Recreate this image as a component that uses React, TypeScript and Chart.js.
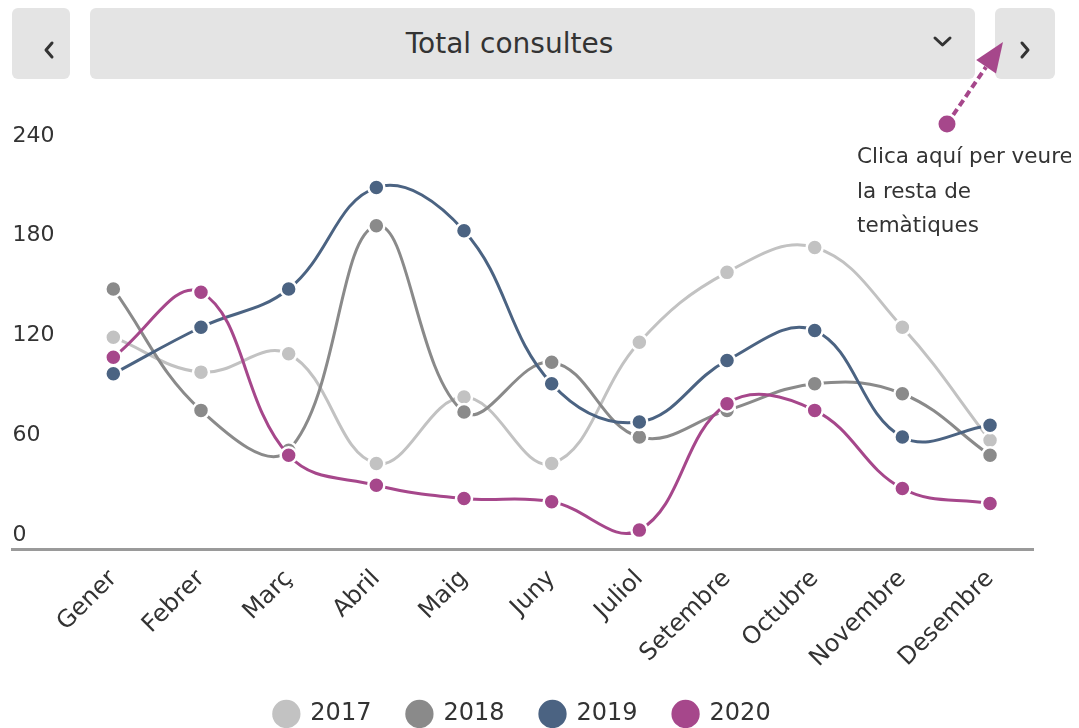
import React, { useEffect, useRef } from "react";
import { Chart, registerables } from "chart.js";

Chart.register(...registerables);

const months = ["Gener", "Febrer", "Març", "Abril", "Maig", "Juny", "Juliol", "Setembre", "Octubre", "Novembre", "Desembre"];
const years = ["2017", "2018", "2019", "2020"];
const values2017 = [119, 98, 109, 43, 83, 43, 116, 158, 173, 125, 57];
const values2018 = [148, 75, 51, 186, 74, 104, 59, 75, 91, 85, 48];
const values2019 = [97, 125, 148, 209, 183, 91, 68, 105, 123, 59, 66];
const values2020 = [107, 146, 48, 30, 22, 20, 3, 79, 75, 28, 19];
const yTicks = [0, 60, 120, 180, 240];
const seriesColors = ["#c2c2c2", "#8a8a8a", "#4b6382", "#a6478b"];

const FONT = "'DejaVu Sans', sans-serif";

function Chevron({ points, x, y, w, h }: { points: string; x: number; y: number; w: number; h: number }) {
  return (
    <svg width={w} height={h} style={{ position: "absolute", left: x, top: y, overflow: "visible" }}>
      <polyline points={points} fill="none" stroke="#333" strokeWidth={3} strokeLinecap="round" strokeLinejoin="round" />
    </svg>
  );
}

export default function App() {
  const canvasRef = useRef<HTMLCanvasElement | null>(null);

  useEffect(() => {
    if (!canvasRef.current) return;
    const all = [values2017, values2018, values2019, values2020];
    const chart = new Chart(canvasRef.current, {
      type: "line",
      data: {
        datasets: years.map((yr, i) => ({
          label: yr,
          data: all[i].map((v, j) => ({ x: j, y: v })),
          borderColor: seriesColors[i],
          backgroundColor: seriesColors[i],
          borderWidth: 3,
          tension: 0.4,
          pointRadius: 8,
          pointBorderWidth: 2.5,
          pointBorderColor: "#ffffff",
          pointBackgroundColor: seriesColors[i],
          order: 3 - i,
          clip: false as any,
        })),
      },
      options: {
        animation: false,
        responsive: true,
        maintainAspectRatio: false,
        layout: { padding: { left: 10, right: 38, top: 36, bottom: -8 } },
        plugins: {
          tooltip: { enabled: false },
          legend: {
            position: "bottom",
            labels: {
              usePointStyle: true,
              boxHeight: 20,
              boxWidth: 24,
              padding: 36,
              color: "#333",
              font: { family: FONT, size: 24 },
              sort: (a: any, b: any) => a.datasetIndex - b.datasetIndex,
              generateLabels: (c: any) =>
                (Chart.defaults.plugins.legend.labels.generateLabels as any)(c).map((l: any) => ({ ...l, lineWidth: 0, strokeStyle: "rgba(0,0,0,0)" })),
            },
          },
        },
        scales: {
          x: {
            type: "linear",
            min: -1.15,
            max: 10.49,
            grid: { display: false, drawTicks: false },
            border: { display: true, color: "#9a9a9a", width: 3 },
            afterBuildTicks: (scale: any) => {
              scale.ticks = months.map((_, i) => ({ value: i }));
            },
            afterFit: (scale: any) => {
              scale.height -= 22;
              scale.paddingLeft = 0;
            },
            ticks: {
              autoSkip: false,
              minRotation: 45,
              maxRotation: 45,
              padding: 15,
              color: "#333",
              font: { family: FONT, size: 24 },
              callback: (v: any) => months[v as number] ?? "",
            },
          },
          y: {
            type: "linear",
            min: -8.8,
            max: 240,
            grid: { display: false, drawTicks: false },
            border: { display: false },
            afterBuildTicks: (scale: any) => {
              scale.ticks = yTicks.map((v) => ({ value: v }));
            },
            afterFit: (scale: any) => {
              scale.width = 0;
            },
            ticks: {
              mirror: true,
              padding: 0,
              color: "#333",
              font: { family: FONT, size: 22 },
            },
          },
        },
      } as any,
    });
    return () => chart.destroy();
  }, []);

  const btn: React.CSSProperties = { position: "absolute", top: 0, height: 71, background: "#e4e4e4", borderRadius: 6 };

  return (
    <div style={{ position: "relative", width: 1063, height: 720, fontFamily: FONT, color: "#333" }}>
      <div style={{ ...btn, left: 4, width: 58 }}>
        <Chevron x={33} y={35} w={8} h={14} points="7,0 1,7 7,14" />
      </div>
      <div style={{ ...btn, left: 82, width: 885 }}>
        <div style={{ position: "absolute", left: 0, top: 0, width: 839, height: 71, lineHeight: "71px", textAlign: "center", fontSize: 28, whiteSpace: "nowrap" }}>
          Total consultes
        </div>
        <Chevron x={845} y={30} w={15} h={8} points="0,0 7.5,7 15,0" />
      </div>
      <div style={{ ...btn, left: 987, width: 60 }}>
        <Chevron x={26} y={35} w={8} h={14} points="1,0 7,7 1,14" />
      </div>
      <div style={{ position: "absolute", left: -6, top: 92, width: 1069, height: 628 }}>
        <canvas ref={canvasRef} />
      </div>
      <svg width={1063} height={720} style={{ position: "absolute", left: 0, top: 0, pointerEvents: "none" }}>
        <line x1={939} y1={116} x2={978} y2={59} stroke="#a6478b" strokeWidth={4} strokeDasharray="7 4" />
        <polygon points="995,34 988,65.6 968.2,52" fill="#a6478b" />
        <circle cx={939} cy={116} r={8.5} fill="#a6478b" />
      </svg>
      <div style={{ position: "absolute", left: 849, top: 131, fontSize: 21.5, lineHeight: "34.5px", whiteSpace: "nowrap", color: "#333" }}>
        Clica aquí per veure
        <br />
        la resta de
        <br />
        temàtiques
      </div>
    </div>
  );
}
